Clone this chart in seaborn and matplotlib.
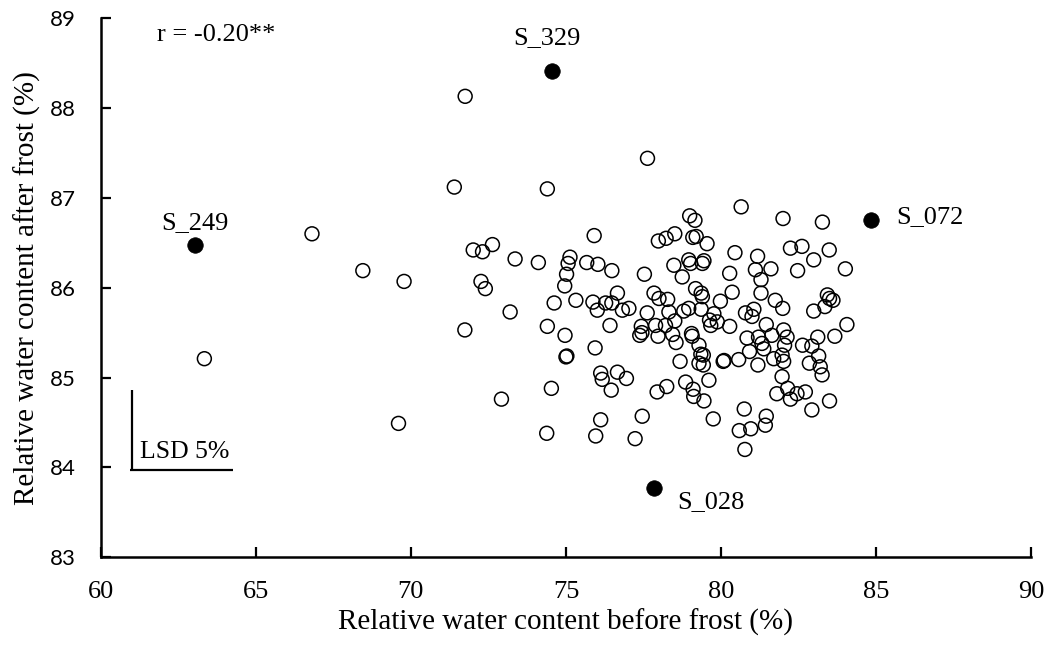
import matplotlib
matplotlib.use("Agg")
import matplotlib.pyplot as plt
import seaborn as sns
import numpy as np
import pandas as pd

# Relative water content (%) of the accessions before and after frost
before_frost = [
    71.75, 71.40, 66.81, 68.45, 69.78, 72.01, 72.31, 72.63, 73.36, 74.11,
    72.26, 72.40, 73.20, 71.74, 63.34, 72.92, 69.60,
    77.63, 74.40, 80.65, 82.00, 83.27, 78.99, 79.16, 75.91, 77.98,
    78.23, 78.51, 79.09, 79.20, 79.55, 80.45, 81.18, 82.24, 82.61,
    83.49, 82.99,
    75.13, 75.07, 75.02, 74.96, 74.62, 75.32, 74.40, 74.97, 75.00, 75.03,
    75.94, 74.53, 75.67, 76.03, 76.48, 77.53, 75.87, 76.01, 76.28, 76.48,
    76.66, 76.82, 77.03, 76.42, 76.12, 76.17, 76.66, 76.95, 76.46, 77.84,
    78.00, 78.28, 77.62, 78.32, 78.80, 78.96, 79.36, 77.43, 77.38, 77.45,
    77.89, 77.97, 78.21, 78.51, 78.44, 78.55, 79.05, 79.07, 79.29, 79.35,
    79.29, 78.68, 78.86, 79.10, 79.12, 79.45, 77.94, 78.25, 78.48, 78.75,
    78.96, 79.02, 79.40, 79.18, 79.36, 79.40, 79.63,
    79.45, 81.11, 81.61, 80.28, 81.29, 82.47, 84.01, 80.36, 79.98, 81.29,
    81.75, 81.99, 80.79, 81.06, 81.00, 79.77, 79.88, 79.67, 80.28, 81.46,
    80.84, 81.21, 81.32, 81.38, 81.64, 82.02, 82.13, 82.05, 81.70, 81.97,
    82.02, 81.97, 80.07, 80.10, 80.57, 80.92, 81.19, 79.61, 79.43, 79.43,
    81.80, 82.15, 82.45, 82.72, 82.63, 82.93, 83.12, 83.15, 82.85, 83.20,
    83.26, 83.67, 84.06, 82.99, 83.35, 83.43, 83.50, 83.61, 83.50,
    74.38, 76.12, 75.96, 77.46, 77.23, 79.75, 80.75, 80.59, 80.96, 80.77,
    81.46, 81.43, 82.24, 82.93,
]
after_frost = [
    88.13, 87.12, 86.60, 86.19, 86.07, 86.42, 86.40, 86.48, 86.32, 86.28,
    86.07, 85.99, 85.73, 85.53, 85.21, 84.76, 84.49,
    87.44, 87.10, 86.90, 86.77, 86.73, 86.80, 86.75, 86.58, 86.52,
    86.55, 86.60, 86.56, 86.57, 86.49, 86.39, 86.35, 86.44, 86.46,
    86.42, 86.31,
    86.34, 86.27, 86.15, 86.02, 85.83, 85.86, 85.57, 85.47, 85.23, 85.24,
    85.33, 84.88, 86.28, 86.26, 86.19, 86.15, 85.84, 85.75, 85.83, 85.83,
    85.94, 85.75, 85.77, 85.58, 85.05, 84.98, 85.06, 84.99, 84.86, 85.94,
    85.88, 85.87, 85.72, 85.73, 85.74, 85.77, 85.76, 85.57, 85.47, 85.50,
    85.58, 85.46, 85.58, 85.63, 85.48, 85.39, 85.49, 85.46, 85.36, 85.26,
    85.16, 85.18, 84.95, 84.87, 84.79, 84.74, 84.84, 84.90, 86.25, 86.12,
    86.31, 86.27, 86.27, 85.99, 85.94, 85.90, 85.64,
    86.30, 86.20, 86.21, 86.16, 86.09, 86.19, 86.21, 85.95, 85.85, 85.94,
    85.86, 85.77, 85.72, 85.76, 85.68, 85.71, 85.62, 85.58, 85.57, 85.59,
    85.44, 85.45, 85.38, 85.32, 85.47, 85.53, 85.45, 85.36, 85.21, 85.25,
    85.18, 85.01, 85.18, 85.19, 85.20, 85.29, 85.14, 84.97, 85.25, 85.14,
    84.82, 84.88, 84.82, 84.84, 85.36, 85.35, 85.45, 85.24, 85.16, 85.12,
    85.03, 85.46, 85.59, 85.74, 85.79, 85.92, 85.88, 85.86, 84.74,
    84.38, 84.53, 84.35, 84.57, 84.32, 84.54, 84.65, 84.41, 84.43, 84.20,
    84.57, 84.47, 84.76, 84.64,
]

# Accessions singled out in the text
marked_names = ["S_249", "S_329", "S_072", "S_028"]
marked_before = [63.04, 74.56, 84.84, 77.85]
marked_after = [86.47, 88.41, 86.75, 83.77]

# Least significant difference (5 %) for the after-frost values
lsd_value = 0.89
correlation_text = "r = -0.20**"

x_ticks = [60, 65, 70, 75, 80, 85, 90]
y_ticks = [83, 84, 85, 86, 87, 88, 89]

sns.set_theme(style="ticks")
plt.rcParams["font.family"] = ["Liberation Serif", "DejaVu Serif"]

fig = plt.figure(figsize=(10.5, 6.48), dpi=100)
ax = fig.add_axes([0.096, 0.140, 0.886, 0.832])

all_df = pd.DataFrame({"before": before_frost, "after": after_frost})
sns.scatterplot(data=all_df, x="before", y="after", ax=ax, s=100,
                facecolors="none", edgecolor="black", linewidth=1.1,
                zorder=3)

mark_df = pd.DataFrame({"name": marked_names, "before": marked_before,
                        "after": marked_after})
sns.scatterplot(data=mark_df, x="before", y="after", ax=ax, s=125,
                color="black", edgecolor="black", linewidth=0.5, zorder=4)

# Labels of the marked accessions
label_pos = {
    "S_249": (63.03, 86.72, "center"),
    "S_329": (74.40, 88.78, "center"),
    "S_072": (85.65, 86.79, "left"),
    "S_028": (78.59, 83.62, "left"),
}
for name in marked_names:
    lx, ly, ha = label_pos[name]
    ax.text(lx, ly, name, ha=ha, va="center", fontsize=19, color="black")

ax.text(61.8, 88.81, correlation_text, ha="left", va="center", fontsize=19,
        color="black")

# LSD bar
lsd_x0, lsd_y0, lsd_len = 61.0, 83.97, 3.25
ax.plot([lsd_x0, lsd_x0], [lsd_y0, lsd_y0 + lsd_value], color="black",
        lw=1.6, solid_capstyle="butt")
ax.plot([lsd_x0 - 0.05, lsd_x0 + lsd_len], [lsd_y0, lsd_y0], color="black",
        lw=1.6, solid_capstyle="butt")
ax.text(lsd_x0 + 0.26, lsd_y0 + 0.08, "LSD 5%", ha="left", va="bottom",
        fontsize=18.5, color="black")

ax.set_xlim(60, 90)
ax.set_ylim(83, 89)
ax.set_xticks(x_ticks)
ax.set_yticks(y_ticks)
ax.set_xticklabels([str(t) for t in x_ticks], fontsize=19,
                   family=["Liberation Serif"])
ax.set_yticklabels([str(t) for t in y_ticks], fontsize=16,
                   family=["Lato", "DejaVu Sans"])
ax.tick_params(axis="both", direction="in", length=7, width=1.6,
               color="black", labelcolor="black")
ax.tick_params(axis="x", pad=17)
ax.tick_params(axis="y", pad=18)

for side in ["left", "bottom"]:
    ax.spines[side].set_linewidth(1.8)
    ax.spines[side].set_color("black")
ax.spines["top"].set_visible(False)
ax.spines["right"].set_visible(False)

ax.set_xlabel("Relative water content before frost (%)", fontsize=21,
              color="black", labelpad=4)
ax.set_ylabel("Relative water content after frost (%)", fontsize=21,
              color="black", labelpad=6)

fig.savefig("out.png", dpi=100, facecolor="white")
